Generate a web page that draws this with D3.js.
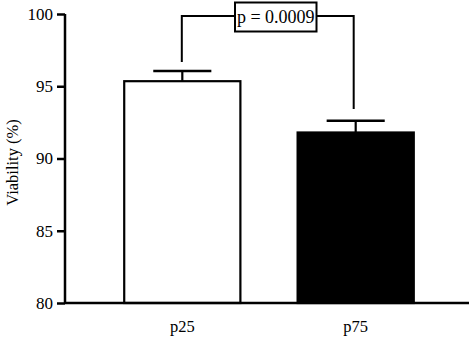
<!DOCTYPE html>
<html><head><meta charset="utf-8">
<script src="https://cdn.jsdelivr.net/npm/d3@7"></script>
<style>body{margin:0;background:#fff}svg{display:block}</style>
</head><body>
<svg id="c" width="469" height="337" font-family="Liberation Serif"></svg>
<script>
const categories = ["p25", "p75"];
const means = [95.35, 91.8];
const errors = [0.7, 0.82];
const fills = ["#ffffff", "#000000"];
const yTicks = [80, 85, 90, 95, 100];
const pLabel = "p = 0.0009";
const yTitle = "Viability (%)";

const svg = d3.select("#c");
const x = d3.scaleBand().domain(categories).range([67, 471]).paddingInner(0.33).paddingOuter(0.33);
const y = d3.scaleLinear().domain([80, 100]).range([303, 14]);

svg.selectAll("rect.bar").data(categories).join("rect")
  .attr("x", d => x(d)).attr("width", x.bandwidth())
  .attr("y", (d, i) => y(means[i])).attr("height", (d, i) => y(80) - y(means[i]))
  .attr("fill", (d, i) => fills[i]).attr("stroke", "#000").attr("stroke-width", 2.2);

categories.forEach((c, i) => {
  const cx = x(c) + x.bandwidth() / 2;
  svg.append("line").attr("x1", cx).attr("x2", cx).attr("y1", y(means[i])).attr("y2", y(means[i] + errors[i]))
    .attr("stroke", "#000").attr("stroke-width", 2.2);
  svg.append("line").attr("x1", cx - x.bandwidth() * 0.25).attr("x2", cx + x.bandwidth() * 0.25)
    .attr("y1", y(means[i] + errors[i])).attr("y2", y(means[i] + errors[i]))
    .attr("stroke", "#000").attr("stroke-width", 2.5);
});

const yAxis = svg.append("g").attr("transform", "translate(65,0)")
  .call(d3.axisLeft(y).tickValues(yTicks).tickSize(8).tickPadding(4));
yAxis.attr("font-family", "Liberation Serif").attr("font-size", 17);
yAxis.select(".domain").attr("stroke-width", 2.5).attr("d", `M0,${y(100)}V${y(80)}`);
yAxis.selectAll(".tick line").attr("stroke-width", 2.5);
yAxis.selectAll(".tick text").attr("fill", "#000");

const xAxis = svg.append("g").attr("transform", `translate(0,${y(80)})`)
  .call(d3.axisBottom(x).tickSize(0).tickPadding(17));
xAxis.attr("font-family", "Liberation Serif").attr("font-size", 16.5);
xAxis.select(".domain").attr("stroke-width", 2.5).attr("d", "M65,0H469");
xAxis.selectAll(".tick text").attr("fill", "#000");

svg.append("text").attr("transform", `translate(18,${(y(80) + y(100)) / 2 + 4}) rotate(-90)`)
  .attr("text-anchor", "middle").attr("font-family", "Liberation Serif").attr("font-size", 16.5).text(yTitle);

const x1 = x(categories[0]) + x.bandwidth() / 2 - 0.5;
const x2 = x(categories[1]) + x.bandwidth() / 2 - 2;
const by = 16;
const boxL = 235, boxR = 316.5, boxT = 2.5, boxB = 31.5;
svg.append("path").attr("fill", "none").attr("stroke", "#000").attr("stroke-width", 2)
  .attr("d", `M${x1},62V${by}H${boxL}M${boxR},${by}H${x2}V109`);
svg.append("rect").attr("x", boxL).attr("y", boxT).attr("width", boxR - boxL).attr("height", boxB - boxT)
  .attr("fill", "#fff").attr("stroke", "#000").attr("stroke-width", 2);
svg.append("text").attr("x", (boxL + boxR) / 2).attr("y", 23).attr("text-anchor", "middle")
  .attr("font-family", "Liberation Serif").attr("font-size", 18).text(pLabel);
</script>
</body></html>
